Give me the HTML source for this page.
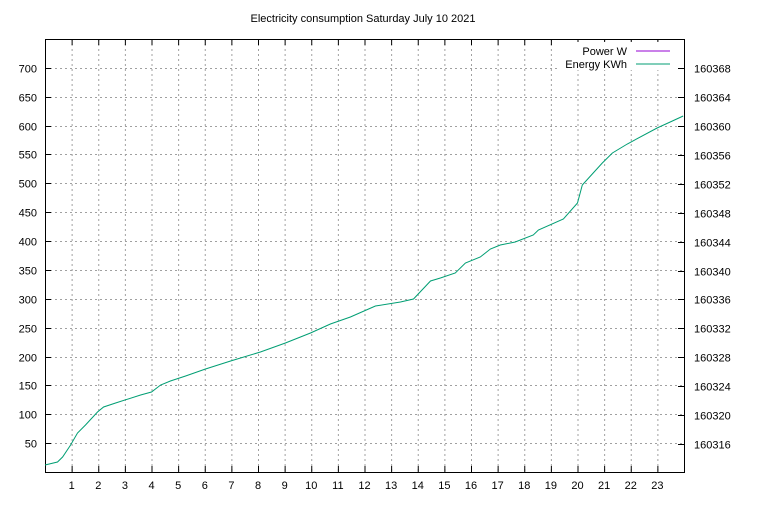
<!DOCTYPE html>
<html><head><meta charset="utf-8"><style>
body{margin:0;background:#fff}
svg text{font-family:"Liberation Sans",sans-serif;font-size:11px;fill:#000}
</style></head><body>
<svg id="chart" width="768" height="500" xmlns="http://www.w3.org/2000/svg">
<text x="363" y="22" text-anchor="middle">Electricity consumption Saturday July 10 2021</text>
<g id="grid"></g><g id="axes"></g><g id="series"></g>
<g>
<rect x="558" y="42" width="120" height="28" fill="#fff"/>
<text x="627" y="55" text-anchor="end">Power W</text>
<line x1="636" y1="51" x2="670" y2="51" stroke="#9400d3" stroke-width="1"/>
<text x="627" y="68" text-anchor="end">Energy KWh</text>
<line x1="636" y1="64" x2="670" y2="64" stroke="#009e73" stroke-width="1"/>
</g>
</svg>
<script>
const xTicks=[1,2,3,4,5,6,7,8,9,10,11,12,13,14,15,16,17,18,19,20,21,22,23];
const yTicks=[50,100,150,200,250,300,350,400,450,500,550,600,650,700];
const y2Ticks=[160316,160320,160324,160328,160332,160336,160340,160344,160348,160352,160356,160360,160364,160368];
const energyHours=[0,0.47,0.66,0.96,1.22,1.52,1.97,2.2,2.65,3.59,4.0,4.34,4.71,5.28,6.03,6.97,8.09,9.03,9.97,10.72,11.47,12.41,13.35,13.84,14.48,14.85,15.41,15.79,16.35,16.73,17.1,17.66,18.34,18.53,19.47,20.0,20.18,20.59,20.93,21.31,21.87,22.99,23.48,23.97];
const energyKWh=[160313.10,160313.51,160314.20,160315.86,160317.52,160318.63,160320.43,160321.12,160321.67,160322.78,160323.20,160324.16,160324.72,160325.41,160326.38,160327.48,160328.73,160329.97,160331.36,160332.60,160333.57,160335.09,160335.64,160336.06,160338.55,160338.96,160339.65,160341.04,160341.87,160342.97,160343.53,160343.94,160344.91,160345.60,160347.12,160349.34,160351.83,160353.48,160354.87,160356.25,160357.50,160359.71,160360.54,160361.37];
const L=45,R=684,T=39,B=472;
const X=h=>L+(h/24)*(R-L);
const Y=v=>B-(v/750)*(B-T);
const Y2=v=>B-((v-160312.13)/(160372.02-160312.13))*(B-T);
const NS="http://www.w3.org/2000/svg";
function mk(tag,attrs,parent,txt){const e=document.createElementNS(NS,tag);for(const k in attrs)e.setAttribute(k,attrs[k]);if(txt!==undefined)e.textContent=txt;document.getElementById(parent).appendChild(e);return e;}
xTicks.forEach(t=>{const x=X(t)+0.5;
 let g=mk('line',{x1:x,y1:T,x2:x,y2:B,stroke:'#a0a0a0','stroke-dasharray':'2,3'},'grid');
 
 
 let a=mk('line',{x1:x,y1:B,x2:x,y2:B-6,stroke:'#000'},'axes');
 
 
 let b=mk('line',{x1:x,y1:T,x2:x,y2:T+6,stroke:'#000'},'axes');
 
 
 let l=mk('text',{x:X(t),y:B+17,'text-anchor':'middle'},'axes',String(t));
 
 
});
yTicks.forEach(t=>{const y=Math.round(Y(t))+0.5;
 let g=mk('line',{x1:L,y1:y,x2:R,y2:y,stroke:'#a0a0a0','stroke-dasharray':'2,3'},'grid');
 
 
 let a=mk('line',{x1:L,y1:y,x2:L+6,y2:y,stroke:'#000'},'axes');
 
 
 let l=mk('text',{x:L-8,y:y+4,'text-anchor':'end'},'axes',String(t));
 
 
});
y2Ticks.forEach(t=>{const y=Math.round(Y2(t))+0.5;
 let a=mk('line',{x1:R-6,y1:y,x2:R,y2:y,stroke:'#000'},'axes');
 
 
 let l=mk('text',{x:R+10,y:y+4,'text-anchor':'start'},'axes',String(t));
 
 
});
let frame=mk('rect',{x:L+0.5,y:T+0.5,width:R-L,height:B-T,fill:'none',stroke:'#000'},'axes');


const pts=energyHours.map((h,i)=>X(h).toFixed(1)+','+Y2(energyKWh[i]).toFixed(1)).join(' ');
let line=mk('polyline',{points:pts,fill:'none',stroke:'#009e73','stroke-width':1},'series');


</script>
</body></html>
